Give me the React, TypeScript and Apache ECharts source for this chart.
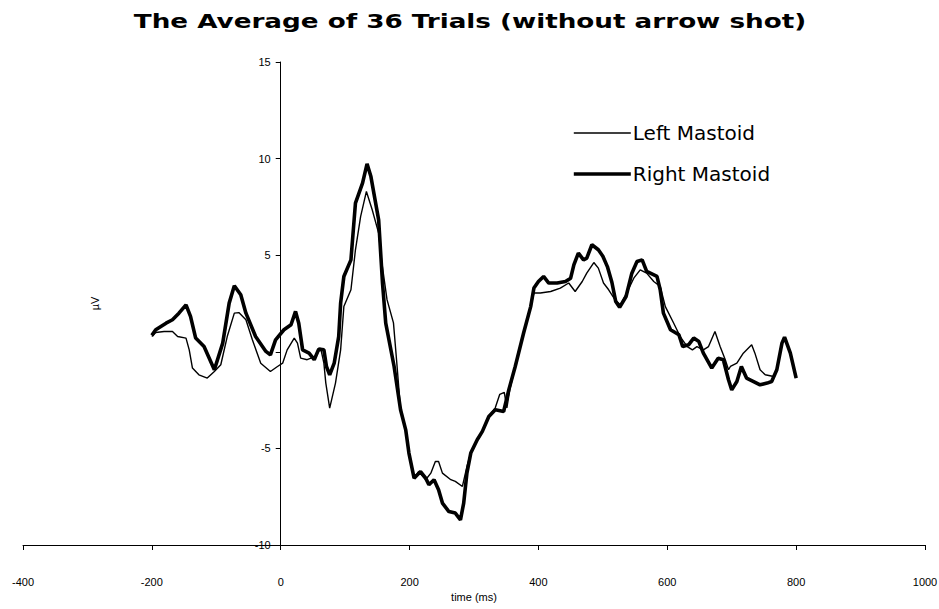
import React, { useEffect, useRef } from "react";
import * as echarts from "echarts";

const titleText = "The Average of 36 Trials (without arrow shot)";
const xName = "time (ms)";
const yName = "µV";
const seriesNames = ["Left Mastoid", "Right Mastoid"];

const leftTime = [-200, -194, -181, -168, -160, -147, -142, -137, -127, -114, -103, -93, -83, -72, -65, -54, -44, -31, -16, -5, 3, 10, 21, 26, 31, 41, 54, 62, 67, 70, 76, 85, 93, 98, 109, 116, 124, 133, 142, 152, 157, 165, 175, 180, 186, 194, 199, 207, 214, 225, 233, 240, 245, 251, 264, 271, 282, 289, 295, 305, 313, 323, 333, 340, 347, 351, 356, 364, 377, 388, 393, 403, 419, 434, 447, 457, 468, 475, 486, 493, 501, 509, 519, 527, 537, 548, 558, 568, 579, 589, 597, 610, 620, 631, 639, 646, 656, 664, 674, 682, 690, 695, 698, 708, 718, 731, 736, 744, 752, 765, 770, 778, 782, 791, 800];
const leftUv = [0.79, 1.0, 1.05, 1.05, 0.79, 0.71, 0.1, -0.84, -1.19, -1.36, -1.02, -0.67, 0.79, 2.0, 2.03, 1.66, 0.62, -0.59, -1.02, -0.76, -0.59, 0.1, 0.71, 0.45, -0.33, -0.41, -0.24, 0.19, -0.59, -1.62, -2.92, -1.62, 0.1, 2.34, 3.21, 5.28, 7.0, 8.3, 7.35, 6.14, 4.6, 2.7, 1.5, -0.5, -3.0, -4.04, -5.24, -6.54, -6.2, -6.62, -6.28, -5.68, -5.68, -6.28, -6.62, -6.71, -6.97, -5.94, -5.24, -4.55, -4.12, -3.35, -2.9, -2.2, -2.1, -2.9, -1.9, -0.76, 0.97, 2.34, 3.04, 3.04, 3.12, 3.3, 3.56, 3.12, 3.64, 4.07, 4.62, 4.33, 3.56, 3.21, 2.69, 2.43, 3.04, 3.81, 4.24, 4.07, 3.64, 3.38, 2.34, 1.48, 0.79, 0.27, 0.1, 0.27, 0.1, 0.27, 1.05, 0.27, -0.41, -0.93, -0.76, -0.59, -0.07, 0.36, -0.07, -0.93, -1.19, -1.28, -0.93, 0.4, 0.7, -0.1, -1.36];

const rightTime = [-200, -194, -178, -168, -158, -147, -140, -132, -119, -103, -90, -80, -72, -62, -54, -39, -23, -16, -8, 5, 16, 23, 28, 34, 44, 52, 59, 67, 71, 76, 83, 90, 93, 98, 109, 116, 127, 134, 140, 152, 158, 163, 176, 186, 194, 199, 207, 217, 225, 230, 238, 245, 251, 261, 271, 279, 284, 289, 295, 305, 313, 323, 333, 346, 354, 364, 377, 388, 393, 400, 408, 416, 429, 442, 450, 455, 462, 470, 475, 483, 493, 500, 507, 514, 520, 526, 536, 545, 553, 561, 568, 584, 589, 594, 605, 618, 624, 633, 641, 649, 656, 669, 679, 687, 695, 700, 708, 715, 723, 734, 744, 755, 762, 770, 778, 782, 791, 800];
const rightUv = [0.85, 1.14, 1.48, 1.66, 2.0, 2.43, 1.83, 0.71, 0.27, -0.93, 0.45, 2.52, 3.42, 2.95, 2.0, 0.79, 0.02, -0.16, 0.62, 1.14, 1.4, 2.09, 1.48, 0.1, -0.07, -0.41, 0.14, 0.1, -0.76, -1.19, -0.59, 0.79, 2.52, 3.9, 4.76, 7.7, 8.73, 9.73, 9.07, 6.83, 3.56, 1.48, -0.76, -3.0, -4.04, -5.24, -6.54, -6.2, -6.54, -6.88, -6.62, -7.14, -7.83, -8.27, -8.35, -8.7, -7.83, -6.28, -5.24, -4.55, -4.12, -3.35, -3.0, -3.09, -1.97, -0.76, 0.97, 2.34, 3.3, 3.64, 3.9, 3.56, 3.56, 3.64, 3.81, 4.5, 5.11, 4.76, 4.85, 5.54, 5.28, 4.95, 4.41, 3.6, 2.6, 2.3, 2.86, 4.07, 4.67, 4.76, 4.16, 3.9, 3.21, 2.0, 1.14, 0.88, 0.27, 0.36, 0.71, 0.53, -0.07, -0.84, -0.33, -0.41, -1.45, -1.97, -1.54, -0.76, -1.36, -1.54, -1.71, -1.62, -1.54, -0.93, 0.45, 0.76, -0.07, -1.36];

const xMin = -400;
const xMax = 1000;
const xStep = 200;
const yMin = -10;
const yMax = 15;
const yStep = 5;

const gridLeft = 23;
const gridRight = 14;
const chartWidth = 939;

export default function App() {
  const ref = useRef<HTMLDivElement>(null);
  useEffect(() => {
    if (!ref.current) return;
    const chart = echarts.init(ref.current, null, { renderer: "svg" });
    const axisFont = { color: "#000", fontSize: 11, fontFamily: "Liberation Sans, Arial, sans-serif" };
    const plotWidth = chartWidth - gridLeft - gridRight;
    // shift the y axis so that it crosses the x axis at time 0
    const yAxisOffset = -((0 - xMin) / (xMax - xMin)) * plotWidth;
    chart.setOption({
      animation: false,
      backgroundColor: "#fff",
      graphic: [
        {
          type: "text",
          x: 470,
          y: 21,
          scaleX: 1.38,
          style: {
            text: titleText,
            fontSize: 19,
            fontWeight: "bold",
            fontFamily: "DejaVu Sans, sans-serif",
            fill: "#000",
            textAlign: "center",
            textVerticalAlign: "middle",
          },
        },
      ],
      legend: {
        orient: "vertical",
        left: 572,
        top: 123,
        padding: 0,
        itemWidth: 57,
        itemHeight: 20,
        itemGap: 21,
        data: seriesNames,
        lineStyle: { width: "inherit" },
        itemStyle: { opacity: 0, borderWidth: 0 },
        textStyle: { color: "#000", fontSize: 20, fontFamily: "DejaVu Sans, sans-serif", padding: [0, 0, 0, -3] },
      },
      grid: { left: gridLeft, right: gridRight, top: 62, bottom: 64, containLabel: false, outerBoundsMode: "none" },
      xAxis: {
        type: "value",
        min: xMin,
        max: xMax,
        interval: xStep,
        name: xName,
        nameLocation: "middle",
        nameGap: 46,
        nameTextStyle: axisFont,
        axisLine: { onZero: false, lineStyle: { color: "#000", width: 1 } },
        axisTick: { show: true, length: 5, lineStyle: { color: "#000" } },
        axisLabel: { ...axisFont, margin: 31, formatter: (v: number) => String(v) },
        splitLine: { show: false },
      },
      yAxis: {
        type: "value",
        position: "left",
        offset: yAxisOffset,
        min: yMin,
        max: yMax,
        interval: yStep,
        name: yName,
        nameLocation: "middle",
        nameGap: 180,
        nameTextStyle: axisFont,
        axisLine: { show: true, onZero: false, lineStyle: { color: "#000", width: 1 } },
        axisTick: { show: true, length: 5, lineStyle: { color: "#000" } },
        axisLabel: {
          ...axisFont,
          margin: 10,
          formatter: (v: number) => (v === 0 ? "" : String(v)),
        },
        splitLine: { show: false },
      },
      series: [
        {
          name: seriesNames[0],
          type: "line",
          symbol: "none",
          smooth: false,
          data: leftTime.map((t, i) => [t, leftUv[i]]),
          lineStyle: { color: "#000", width: 1.4 },
          itemStyle: { color: "#000" },
        },
        {
          name: seriesNames[1],
          type: "line",
          symbol: "none",
          smooth: false,
          data: rightTime.map((t, i) => [t, rightUv[i]]),
          lineStyle: { color: "#000", width: 3.6 },
          itemStyle: { color: "#000" },
        },
      ],
    });
    return () => chart.dispose();
  }, []);
  return (
    <div
      ref={ref}
      style={{ position: "absolute", left: 0, top: 0, width: 939, height: 609, background: "#fff" }}
    />
  );
}
